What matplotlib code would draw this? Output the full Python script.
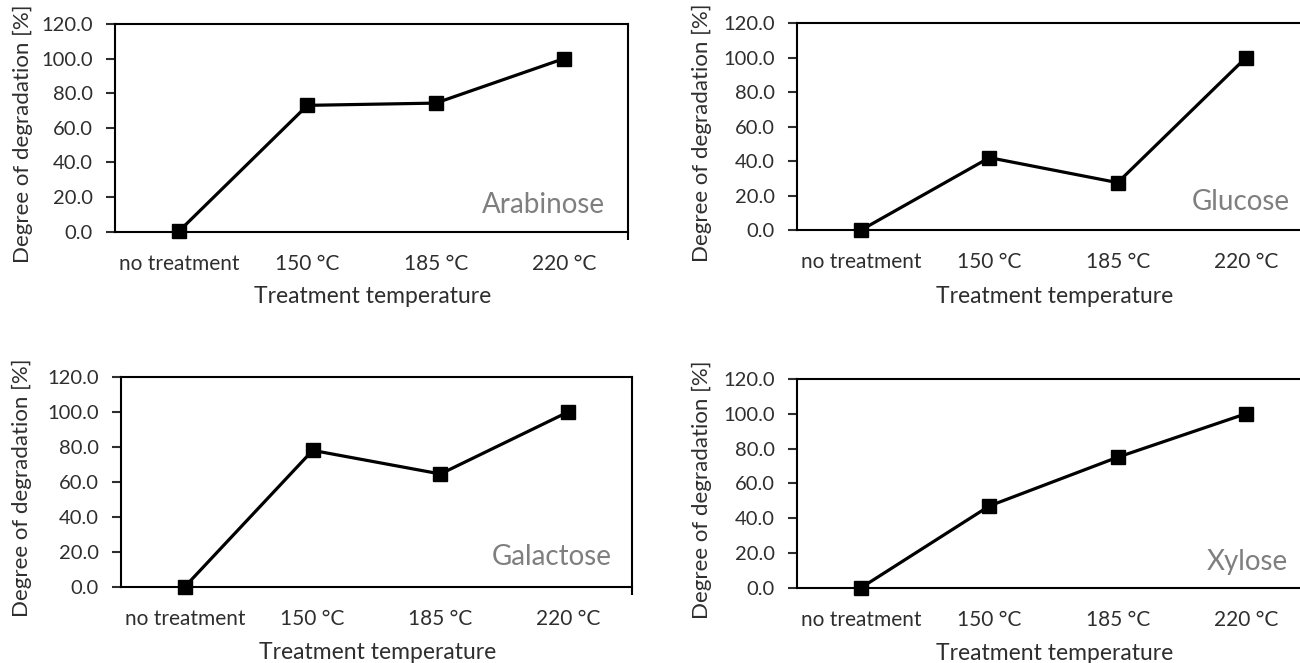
import matplotlib.pyplot as plt

plt.rcParams['font.family'] = ['Lato', 'DejaVu Sans']

categories = ['no treatment', '150 °C', '185 °C', '220 °C']
arabinose = [0.4, 73.0, 74.3, 100.0]
glucose = [0.0, 42.0, 27.5, 100.0]
galactose = [0.0, 78.0, 64.5, 100.0]
xylose = [0.0, 47.0, 75.0, 100.0]
yticks = [0, 20, 40, 60, 80, 100, 120]

TXT = '#2e2e2e'
GRAY = '#7f7f7f'

fig = plt.figure(figsize=(13, 6.63), dpi=100)

# axes box, sugar name, data, xlabel offset, ylabel x, name pos
panels = [
    ([0.0885, 0.6505, 0.3946, 0.3133], 'Arabinose', arabinose, -0.314, -0.180, (0.955, 0.13)),
    ([0.6131, 0.6531, 0.3946, 0.3118], 'Glucose', glucose, -0.324, -0.185, (0.961, 0.135)),
    ([0.0931, 0.1151, 0.3931, 0.3163], 'Galactose', galactose, -0.316, -0.193, (0.961, 0.142)),
    ([0.6131, 0.1136, 0.3946, 0.3148], 'Xylose', xylose, -0.313, -0.185, (0.957, 0.123)),
]

x = [1, 2, 3, 4]

for pos, name, vals, ly, yx, npos in panels:
    ax = fig.add_axes(pos)
    ax.plot(x, vals, color='black', lw=2.3, marker='s', ms=10,
            mfc='black', mec='black', clip_on=False, zorder=3)
    ax.set_xlim(0.5, 4.5)
    ax.set_ylim(0, 120)
    ax.set_yticks(yticks)
    ax.set_yticklabels(['%.1f' % v for v in yticks])
    # labels sit on the categories, tick marks drawn separately
    ax.set_xticks(x)
    ax.set_xticklabels(categories)
    ax.tick_params(axis='x', length=0, pad=16, labelsize=15, colors=TXT)
    ax.set_xticks([2, 3, 4, 4.5], minor=True)
    ax.tick_params(axis='x', which='minor', length=6, width=1.5, color='black')
    ax.tick_params(axis='y', length=6.5, width=1.5, pad=9.5, labelsize=14.5,
                   colors=TXT)
    for s in ax.spines.values():
        s.set_linewidth(1.5)
        s.set_color('black')
    ax.set_ylabel('Degree of degradation [%]', fontsize=16, color=TXT)
    ax.yaxis.set_label_coords(yx, 0.47)
    ax.yaxis.label.set_va('center')
    ax.set_xlabel('Treatment temperature', fontsize=16.5, color=TXT)
    ax.xaxis.set_label_coords(0.503, ly)
    ax.xaxis.label.set_va('center')
    ax.text(npos[0], npos[1], name, transform=ax.transAxes, ha='right',
            va='center', fontsize=20, color=GRAY)

fig.savefig('out.png', dpi=100)
